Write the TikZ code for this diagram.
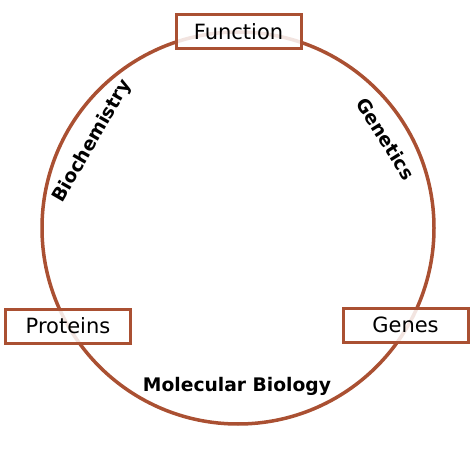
\documentclass[tikz,border=0pt]{standalone}
\usepackage{fontspec}
\setmainfont{DejaVu Sans}
\definecolor{rust}{RGB}{170,80,50}
\tikzset{
  field/.style={draw=rust,line width=3pt,fill=white,fill opacity=0.85,text opacity=1,
    minimum width=125pt,minimum height=34pt,inner sep=0pt,font=\fontsize{21}{25}\selectfont},
  branch/.style={font=\fontsize{18.7}{22}\selectfont\bfseries,inner sep=0pt}
}
\begin{document}
\begin{tikzpicture}[x=1pt,y=-1pt]
      \useasboundingbox(0,0)rectangle(474,457);
      \coordinate(O)at(238,228);
      \draw[rust,line width=3.5pt](O)circle(196);
      \foreach \n/\x/\y/\t in{fun/238.5/32/Function,pro/68/326/Proteins,gen/405.5/325/Genes}{
        \node[field](\n)at(\x,\y){\t};
      }
      \node[branch,rotate=60](bio)at(92.5,141.5){Biochemistry};
      \node[branch,rotate=-58](gnt)at(386,139){Genetics};
      \node[branch,anchor=base](mol)at(237,391){Molecular Biology};
    \end{tikzpicture}
\end{document}
